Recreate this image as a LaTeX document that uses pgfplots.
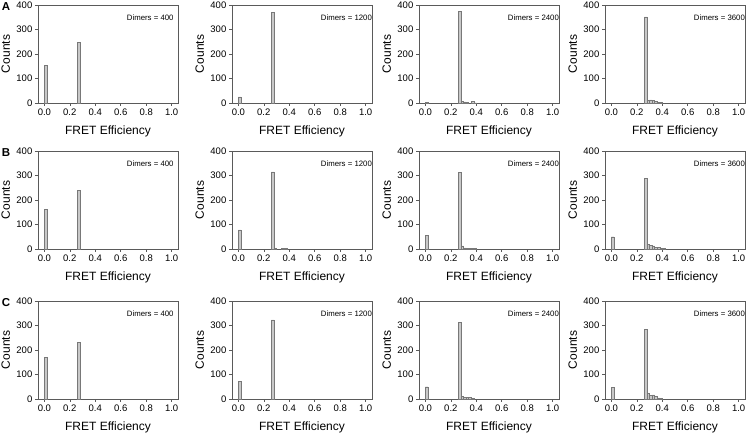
\documentclass[border=0pt]{standalone}
\usepackage{pgfplots}
\pgfplotsset{compat=1.18}
\usepackage{fontspec}
\setmainfont{Liberation Sans}
\definecolor{barfill}{RGB}{200,200,200}
\definecolor{baredge}{RGB}{120,120,120}
\definecolor{axcol}{RGB}{90,90,90}
\pgfplotsset{
  panel/.style={
    anchor=south west, scale only axis, width=140pt, height=98pt,
    xmin=-0.05, xmax=1.05, ymin=0, ymax=400,
    xtick={0,0.2,0.4,0.6,0.8,1.0}, ytick={0,100,200,300,400},
    xtick pos=left, ytick pos=left, tick align=outside,
    major tick length=3pt,
    axis line style={draw=axcol, line width=0.5pt},
    every tick/.style={draw=axcol, line width=0.5pt},
    /pgf/number format/assume math mode=true,
    xticklabel style={/pgf/number format/.cd,fixed,fixed zerofill,precision=1},
    ticklabel style={font=\fontsize{9.5}{11}\selectfont, inner sep=2.5pt},
    xlabel={FRET Efficiency}, ylabel={Counts},
    every axis x label/.style={at={(axis description cs:0.5,-0.285)}, anchor=center, font=\fontsize{12}{14}\selectfont},
    every axis y label/.style={at={(axis description cs:-0.23,0.5)}, anchor=center, rotate=90, font=\fontsize{12}{14}\selectfont},
    clip=false,
  },
  hist/.style={ybar, bar width=0.02, bar shift=0pt, fill=barfill, draw=baredge, line width=0.4pt},
}
\newcommand{\panel}[4]{%
\begin{axis}[panel, at={(#1pt,#2pt)}]
\addplot[hist] coordinates {#4};
\node[anchor=west, font=\fontsize{7.8}{9}\selectfont] at (rel axis cs:0.61,0.867) {Dimers = #3};
\end{axis}}
\begin{document}
\begin{tikzpicture}
\useasboundingbox (0,0) rectangle (750pt,435pt);
% Row A
\panel{38}{332}{400}{(0.01,155) (0.27,248)}
\panel{232}{332}{1200}{(0.01,25) (0.27,370)}
\panel{419}{332}{2400}{(0.01,2) (0.27,375) (0.29,8) (0.31,5) (0.33,2) (0.37,6) (0.39,1)}
\panel{605}{332}{3600}{(0.27,352) (0.29,10) (0.31,13) (0.33,12) (0.35,8) (0.37,4) (0.39,2)}
% Row B
\panel{38}{186}{400}{(0.01,163) (0.27,238)}
\panel{232}{186}{1200}{(0.01,78) (0.27,315) (0.29,4) (0.35,3) (0.37,2)}
\panel{419}{186}{2400}{(0.01,55) (0.27,313) (0.29,13) (0.31,5) (0.33,4) (0.35,4) (0.37,3) (0.39,2)}
\panel{605}{186}{3600}{(0.01,50) (0.27,288) (0.29,18) (0.31,14) (0.33,13) (0.35,8) (0.37,6) (0.39,3) (0.41,2)}
% Row C
\panel{38}{36}{400}{(0.01,170) (0.27,230)}
\panel{232}{36}{1200}{(0.01,72) (0.27,323)}
\panel{419}{36}{2400}{(0.01,50) (0.27,313) (0.29,10) (0.31,7) (0.33,6) (0.35,6) (0.37,4)}
\panel{605}{36}{3600}{(0.01,48) (0.27,283) (0.29,24) (0.31,16) (0.33,17) (0.35,10) (0.37,5) (0.39,2)}
\node[font=\bfseries\fontsize{11.5}{13}\selectfont] at (6pt,428pt) {A};
\node[font=\bfseries\fontsize{11.5}{13}\selectfont] at (6pt,282.5pt) {B};
\node[font=\bfseries\fontsize{11.5}{13}\selectfont] at (6pt,132.5pt) {C};
\end{tikzpicture}
\end{document}
